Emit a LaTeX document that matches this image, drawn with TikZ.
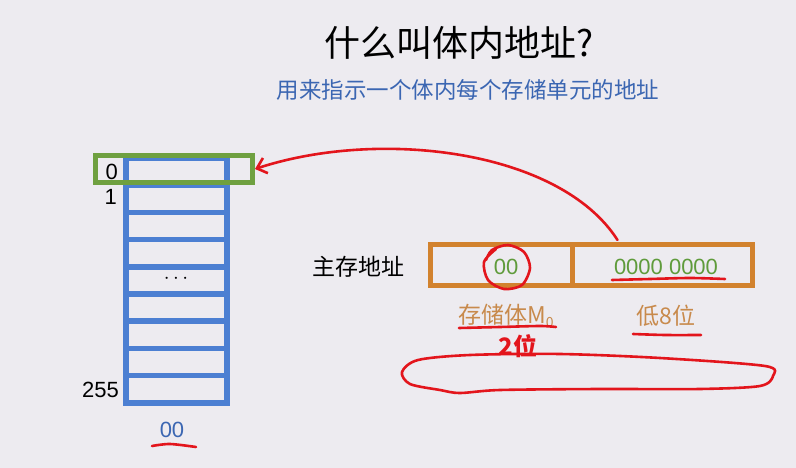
\documentclass[tikz,border=0pt]{standalone}
\usepackage{fontspec}
\setmainfont{Noto Sans CJK SC}
\newfontfamily\latfont{Liberation Sans}
\usetikzlibrary{arrows.meta}
\definecolor{bg}{HTML}{EDEBF0}
\definecolor{cellblue}{HTML}{4C7FD2}
\definecolor{boxgreen}{HTML}{6FA040}
\definecolor{boxorange}{HTML}{D2822E}
\definecolor{inkred}{HTML}{E3151C}
\definecolor{subblue}{HTML}{3B66B2}
\definecolor{txtgreen}{HTML}{5F9B3B}
\definecolor{txtorange}{HTML}{C88A4C}
\tikzset{
  cell/.style={draw=cellblue, line width=5.5pt, minimum width=101pt, minimum height=27.2pt, inner sep=0pt},
  selbox/.style={draw=boxgreen, line width=5pt, minimum width=157pt, minimum height=27pt, inner sep=0pt},
  addrbox/.style={draw=boxorange, line width=5pt, minimum height=41pt, inner sep=0pt},
  ink/.style={draw=inkred, line width=2.6pt, line cap=round, line join=round},
  num/.style={font=\latfont\fontsize{22}{26}\selectfont, inner sep=0pt},
  lbl/.style={font=\fontsize{23}{27}\selectfont, inner sep=0pt},
}
\begin{document}
\begin{tikzpicture}[x=1pt,y=-1pt]
\fill[bg] (0,0) rectangle (796,468);
\useasboundingbox (0,0) rectangle (796,468);

% titles
\node[font=\fontsize{36}{42}\selectfont, inner sep=0pt] (title) at (459,43) {什么叫体内地址?};
\node[font=\fontsize{22.5}{26}\selectfont, text=subblue, inner sep=0pt] (sub) at (468,90) {用来指示一个体内每个存储单元的地址};

% memory column
\foreach \i in {0,...,8}{
  \node[cell] (row\i) at (176.5,{171.6+27.2*\i}) {};
}
\node[inner sep=0pt, font=\fontsize{20}{22}\selectfont] (dots) at (176,279) {$\cdots$};
\node[selbox] (sel) at (174,169) {};
\node[num, anchor=east] (l0) at (118,172) {0};
\node[num, anchor=east] (l1) at (117,197) {1};
\node[num, anchor=east] (l255) at (119,390) {255};
\node[num, text=subblue] (bankid) at (172,430) {00};

% main memory address
\node[font=\fontsize{23}{27}\selectfont, inner sep=0pt] (mainaddr) at (358,267) {主存地址};
\node[addrbox, minimum width=141.5pt] (bank) at (501.25,265) {};
\node[addrbox, minimum width=180.5pt] (low) at (662.25,265) {};
\node[num, text=txtgreen] (bankbits) at (506,267) {00};
\node[num, text=txtgreen] (lowbits) at (666,267) {0000 0000};
\node[lbl, text=txtorange] (bankname) at (506,316) {存储体M\raisebox{-0.3ex}{\fontsize{14}{16}\selectfont 0}};
\node[lbl, text=txtorange] (lowname) at (666,316) {低8位};

% red annotations
\draw[ink, -{Straight Barb[length=9pt,width=16pt]}] (low.north west) ++(48,-2)
  .. controls (560,150) and (380,128) .. (sel.east);
\draw[ink] plot[smooth] coordinates {(496,249) (484,262) (488,280) (504,289) (522,285) (530,268) (524,252) (508,245) (492,250) (486,260)};
\draw[ink] plot[smooth] coordinates {(612,280) (650,279) (690,278) (725,279)};
\draw[ink] plot[smooth] coordinates {(459,328) (500,327) (540,326) (556,327)};
\draw[ink] plot[smooth] coordinates {(633,334) (665,335) (701,335)};
\draw[ink] plot[smooth] coordinates {(152,446) (170,444) (196,447)};
\node[inner sep=0pt, text=inkred, font=\fontsize{24}{28}\selectfont\bfseries] (twobits) at (518,346) {2位};
\draw[ink] plot[smooth cycle] coordinates {(402,372) (418,360) (470,355) (560,354) (660,358) (765,366) (773,376) (760,386) (700,389) (600,389) (500,390) (460,393) (440,390) (410,384)};
\end{tikzpicture}
\end{document}
